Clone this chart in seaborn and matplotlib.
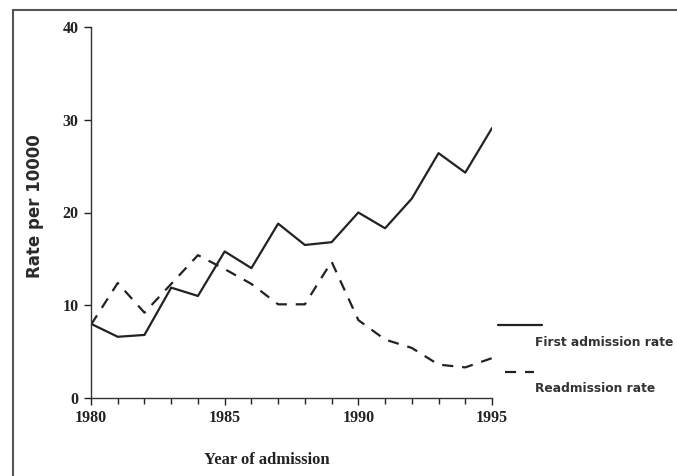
from matplotlib import pyplot as plt
from matplotlib.lines import Line2D
from matplotlib.patches import Rectangle
import pandas as pd
import seaborn as sns

years = list(range(1980, 1996))
first_admission = [8.0, 6.6, 6.8, 11.9, 11.0, 15.8, 14.0, 18.8, 16.5, 16.8,
                   20.0, 18.3, 21.5, 26.4, 24.3, 29.1]
readmission = [7.9, 12.4, 9.2, 12.3, 15.4, 13.9, 12.3, 10.1, 10.1, 14.7,
               8.4, 6.3, 5.4, 3.6, 3.3, 4.3]
series_names = ["First admission rate", "Readmission rate"]

data = pd.DataFrame({
    'Year': years * 2,
    'Rate': first_admission + readmission,
    'Series': [series_names[0]] * len(years) + [series_names[1]] * len(years)
})

sns.set_style("ticks")
plt.rcParams['font.family'] = ['Liberation Serif', 'DejaVu Serif']

fig = plt.figure(figsize=(6.77, 4.76), dpi=100)
ax = fig.add_axes([91/677, 78/476, 401/677, 371/476])

sns.lineplot(
    data=data,
    x='Year',
    y='Rate',
    style='Series',
    dashes={series_names[0]: '', series_names[1]: (5, 4)},
    color='#222222',
    linewidth=1.6,
    legend=False,
    ax=ax
)

ax.set_xlim(1980, 1995)
ax.set_ylim(0, 40)
ax.set_xticks([1980, 1985, 1990, 1995])
ax.set_xticks(years, minor=True)
ax.set_yticks([0, 10, 20, 30, 40])
ax.tick_params(axis='both', which='major', length=5, width=1, labelsize=11.5,
               colors='#222222', pad=4)
ax.tick_params(axis='x', which='minor', length=4, width=1, color='#222222')
for lab in ax.get_xticklabels() + ax.get_yticklabels():
    lab.set_fontweight('bold')
ax.set_xlabel("")
ax.set_ylabel("")
sns.despine(ax=ax)
for s in ['left', 'bottom']:
    ax.spines[s].set_color('#333333')
    ax.spines[s].set_linewidth(1)

fig.text(35/677, 1 - 206/476, "Rate per 10000", rotation=90, ha='center', va='center',
         fontsize=12, fontweight='bold', family=['DejaVu Sans'], color='#2a2a2a')
fig.text(267/677, 16/476, "Year of admission", ha='center', va='center',
         fontsize=12, fontweight='bold', color='#222222')

# outer frame
fig.add_artist(Rectangle((13/677, -0.05), 1.1, (466/476) + 0.05, transform=fig.transFigure,
                         fill=False, edgecolor='#555555', linewidth=1.5))

# legend drawn by hand
fig.add_artist(Line2D([498/677, 542/677], [151/476, 151/476], transform=fig.transFigure,
                      color='#222222', linewidth=1.6))
fig.add_artist(Line2D([505/677, 534/677], [104/476, 104/476], transform=fig.transFigure,
                      color='#222222', linewidth=1.6, dashes=(5, 4)))
fig.text(535/677, 134/476, series_names[0], ha='left', va='center',
         fontsize=8.8, fontweight='bold', family=['DejaVu Sans'], color='#333333')
fig.text(535/677, 88/476, series_names[1], ha='left', va='center',
         fontsize=8.8, fontweight='bold', family=['DejaVu Sans'], color='#333333')

plt.savefig("out.png", dpi=100)
